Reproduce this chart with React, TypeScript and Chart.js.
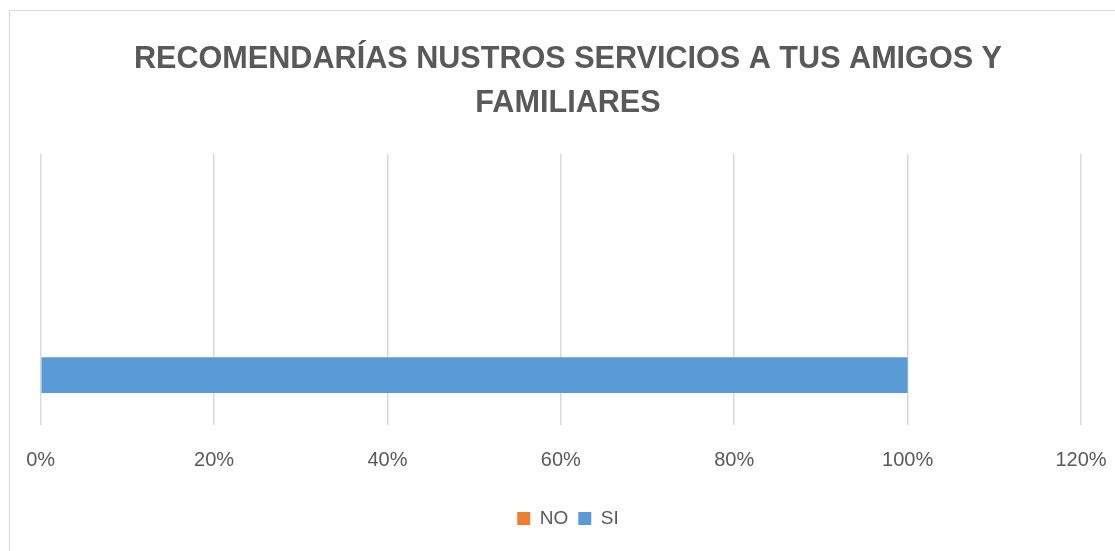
import React, { useEffect, useRef } from "react";
import { Chart, registerables } from "chart.js";

Chart.register(...registerables);

const titleLines = ["RECOMENDARÍAS NUSTROS SERVICIOS A TUS AMIGOS Y", "FAMILIARES"];
const categories = ["", ""];
const noValues = [null, 0];
const siValues = [null, 1];
const seriesNames = ["NO", "SI"];
const xMin = 0;
const xMax = 1.2;
const xStep = 0.2;

export default function App() {
  const ref = useRef<HTMLCanvasElement>(null);
  useEffect(() => {
    if (!ref.current) return;
    const gray = "#595959";
    const family = "'Liberation Sans', Arial, sans-serif";
    const chart = new Chart(ref.current, {
      type: "bar",
      data: {
        labels: categories,
        datasets: [
          { label: seriesNames[0], data: noValues as any, backgroundColor: "#ED7D31", borderWidth: 0 },
          { label: seriesNames[1], data: siValues as any, backgroundColor: "#5B9BD5", borderWidth: 0 },
        ],
      },
      options: {
        indexAxis: "y",
        responsive: false,
        animation: false,
        datasets: { bar: { categoryPercentage: 0.527, barPercentage: 1 } },
        layout: { padding: { left: 20, right: 9, top: 0, bottom: 13 } },
        plugins: {
          title: {
            display: true,
            text: titleLines,
            color: gray,
            font: { family, size: 30.6, weight: "bold", lineHeight: 1.45 },
            padding: { top: 26, bottom: 28 },
          },
          legend: {
            position: "bottom",
            labels: {
              boxWidth: 13,
              boxHeight: 13,
              padding: 10,
              color: gray,
              font: { family, size: 19 },
            },
          },
          tooltip: { enabled: false },
        },
        scales: {
          x: {
            min: xMin,
            max: xMax,
            ticks: {
              stepSize: xStep,
              padding: 23,
              color: gray,
              font: { family, size: 20 },
              callback: (v: any) => Math.round(Number(v) * 100) + "%",
            },
            grid: { color: "#d9d9d9", lineWidth: 1.5, drawTicks: false },
            border: { display: false },
            afterFit: (axis: any) => {
              axis.height = 74;
              axis.paddingLeft = 0;
              axis.paddingRight = 0;
            },
          },
          y: {
            ticks: { display: false },
            grid: { display: false },
            border: { display: false },
            afterFit: (axis: any) => {
              axis.width = 10.7;
            },
          },
          y2: {
            position: "right",
            ticks: { display: false },
            grid: { display: false },
            border: { display: false },
            afterFit: (axis: any) => {
              axis.width = 25;
            },
          },
        },
      },
    });
    return () => chart.destroy();
  }, []);
  return (
    <div
      style={{
        position: "fixed",
        left: 9,
        top: 10,
        borderLeft: "1px solid #d9d9d9",
        borderTop: "1px solid #d9d9d9",
        background: "#fff",
      }}
    >
      <canvas ref={ref} width={1105} height={540} style={{ display: "block" }} />
    </div>
  );
}
